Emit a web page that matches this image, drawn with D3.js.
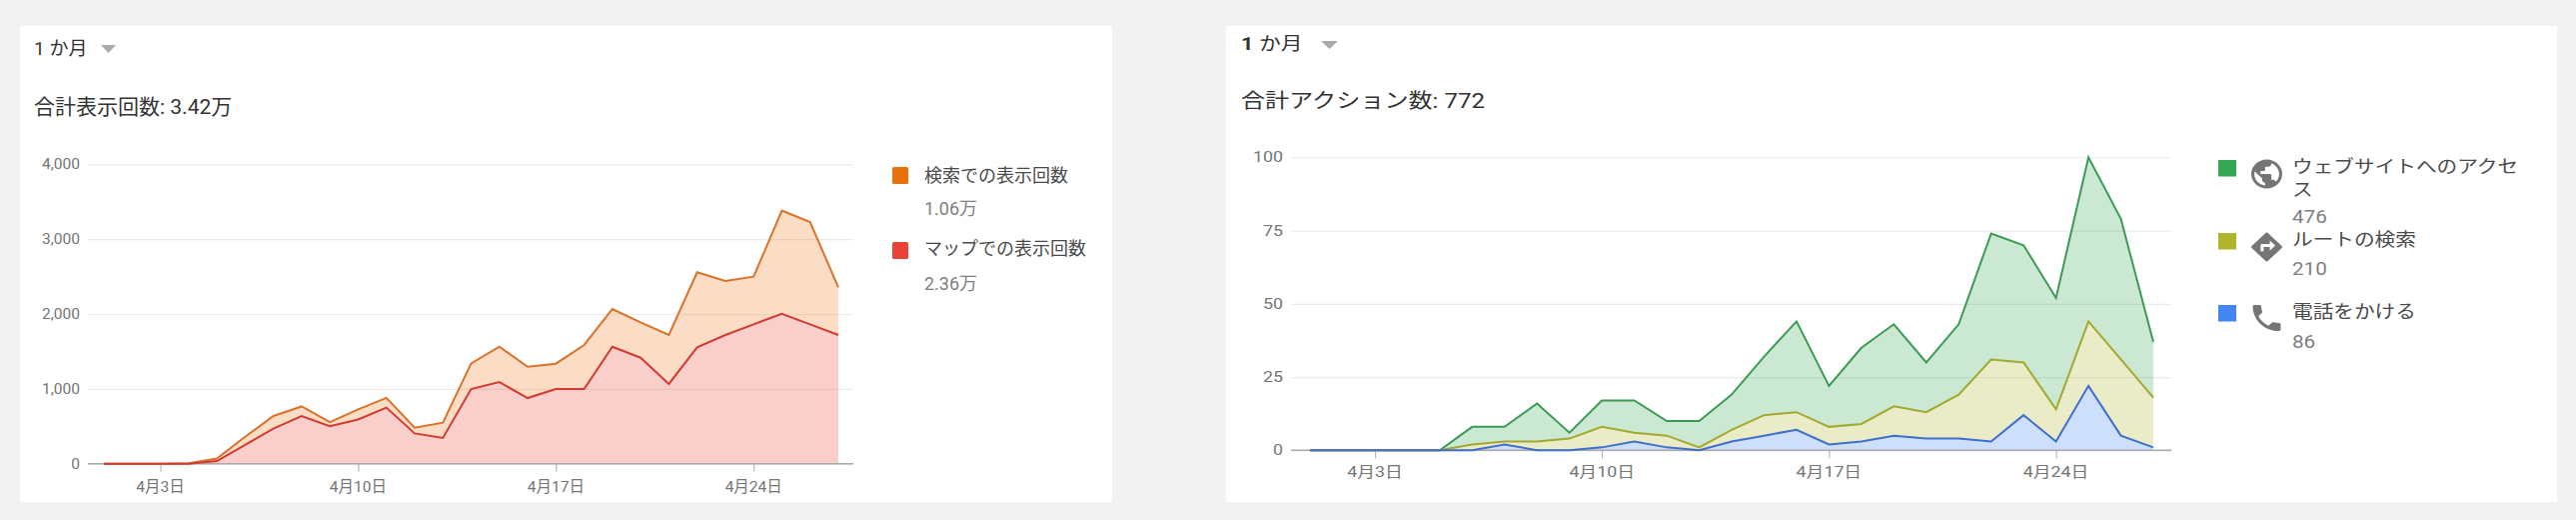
<!DOCTYPE html>
<html><head><meta charset="utf-8">
<script src="https://cdn.jsdelivr.net/npm/d3@7"></script>
<style>
html,body{margin:0;padding:0;background:#f2f2f2;overflow:hidden}
svg{display:block}
text{font-family:Roboto,"Noto Sans CJK JP",sans-serif}
</style></head><body><svg id="c" width="2578" height="520"></svg>
<script>
const days = d3.range(1, 28);
const tickDays = [3, 10, 17, 24];
const tickLabels = ["4月3日", "4月10日", "4月17日", "4月24日"];

const mapViews = [0,0,0,0,35,250,470,637,500,590,750,405,343,998,1090,877,998,998,1563,1416,1065,1555,1719,1862,2004,1862,1719];
const searchViews = [0,0,0,5,35,110,167,128,55,135,130,75,205,342,473,419,338,588,504,473,654,1002,722,637,1377,1367,637];
const viewTicks = [0, 1000, 2000, 3000, 4000];

const calls = [0,0,0,0,0,0,2,0,0,1,3,1,0,3,5,7,2,3,5,4,4,3,12,3,22,5,1];
const routes = [0,0,0,0,0,2,1,3,4,7,3,4,1,4,7,6,6,6,10,9,15,28,18,11,22,26,17];
const visits = [0,0,0,0,0,6,5,13,2,9,11,5,9,12,20,31,14,26,28,17,24,43,40,38,56,48,19];
const actionTicks = [0, 25, 50, 75, 100];

const svg = d3.select("#c");

function label(g, x, y, str, o) {
  o = o || {};
  const sx = o.sx || 1, sy = o.sy || 1;
  return g.append("text")
    .attr("transform", `translate(${x},${y}) scale(${sx},${sy})`)
    .attr("font-size", o.size || 18)
    .attr("fill", o.fill || "#555")
    .attr("font-weight", o.weight || 400)
    .attr("text-anchor", o.anchor || "start")
    .attr("dominant-baseline", "central")
    .text(str);
}

function chart(cfg) {
  const g = svg.append("g");
  g.append("rect").attr("x", cfg.panel[0]).attr("y", 26)
    .attr("width", cfg.panel[1] - cfg.panel[0]).attr("height", 476).attr("fill", "#fff");

  const x = d3.scaleLinear().domain([1, 27]).range(cfg.xr);
  const y = d3.scaleLinear().domain([0, cfg.max]).range(cfg.yr);
  const T = { sx: cfg.sx, sy: cfg.sy };

  // header
  const h = g.append("text")
    .attr("transform", `translate(${cfg.headX},${cfg.headY}) scale(${cfg.sx},${cfg.sy})`)
    .attr("font-size", 19).attr("fill", "#333").attr("dominant-baseline", "central");
  h.append("tspan").attr("font-weight", cfg.boldOne ? 700 : 400).text("1");
  h.append("tspan").text(" か月");
  g.append("path").attr("fill", "#aaa")
    .attr("d", d3.line()([[cfg.tri[0], cfg.tri[2]], [cfg.tri[1], cfg.tri[2]], [(cfg.tri[0] + cfg.tri[1]) / 2, cfg.tri[2] + 8]]) + "Z");
  label(g, cfg.headX, cfg.titleY, cfg.title, { ...T, size: 21, fill: "#333" });

  // y grid + labels via axis
  const ya = g.append("g").attr("transform", `translate(${cfg.gridX[0]},0)`)
    .call(d3.axisLeft(y).tickValues(cfg.yTicks).tickSize(-(cfg.gridX[1] - cfg.gridX[0])).tickFormat(d3.format(",")));
  ya.select(".domain").remove();
  ya.selectAll(".tick line").attr("stroke", "#ebebeb").attr("stroke-width", 1.2);
  ya.selectAll(".tick text").remove();
  cfg.yTicks.forEach(v => label(g, cfg.gridX[0] - 8, y(v), d3.format(",")(v),
    { ...T, size: 15.5, fill: "#757575", anchor: "end" }));

  // stacked areas
  const table = days.map((d, i) => {
    const r = { day: d };
    cfg.series.forEach(s => r[s.key] = s.values[i]);
    return r;
  });
  const stacked = d3.stack().keys(cfg.series.map(s => s.key))(table);
  const area = d3.area().x(d => x(d.data.day)).y0(d => y(d[0])).y1(d => y(d[1]));
  const line = d3.line().x(d => x(d.data.day)).y(d => y(d[1]));
  g.selectAll(null).data(stacked).enter().append("path")
    .attr("d", area).attr("fill", (d, i) => cfg.series[i].color).attr("fill-opacity", 0.26);

  // x axis
  const xa = g.append("g").attr("transform", `translate(0,${cfg.yr[0]})`)
    .call(d3.axisBottom(x).tickValues(tickDays).tickSize(8).tickFormat(""));
  xa.select(".domain").attr("d", `M${cfg.gridX[0]},0H${cfg.gridX[1]}`).attr("stroke", "#aaa").attr("stroke-width", 1.5);
  xa.selectAll(".tick line").attr("stroke", "#aaa").attr("stroke-width", 1);
  xa.selectAll(".tick text").remove();
  tickDays.forEach((d, i) => label(g, x(d), cfg.tickY, tickLabels[i],
    { ...T, size: 15.5, fill: "#757575", anchor: "middle" }));

  // lines, last series on the bottom drawn last so it stays on top at zero
  const order = stacked.map((s, i) => i).reverse();
  order.forEach(i => {
    g.append("path").datum(stacked[i]).attr("d", line).attr("fill", "none")
      .attr("stroke", cfg.series[i].lineColor).attr("stroke-width", 2).attr("stroke-linejoin", "miter");
  });
  return g;
}

const left = chart({
  panel: [20, 1113], xr: [104, 839], yr: [463.7, 164.3], max: 4000, yTicks: viewTicks,
  gridX: [88, 854], sx: 1, sy: 1, headX: 34, headY: 48, titleY: 107, tri: [101, 116, 45],
  tickY: 487, boldOne: false, title: "合計表示回数: 3.42万",
  series: [
    { key: "map", values: mapViews, color: "#ea4335", lineColor: "#d23a32" },
    { key: "search", values: searchViews, color: "#f0761a", lineColor: "#d9722a" }
  ]
});
[["検索での表示回数", "1.06万", "#e8710a", 167, 175, 208], ["マップでの表示回数", "2.36万", "#ea4335", 242, 248, 283]]
  .forEach(r => {
    left.append("rect").attr("x", 893).attr("y", r[3]).attr("width", 16).attr("height", 17).attr("rx", 1.5).attr("fill", r[2]);
    label(left, 925, r[4], r[0], { size: 18, fill: "#4a4a4a" });
    label(left, 925, r[5], r[1], { size: 18, fill: "#808080" });
  });

const SX = 1.148, SY = 0.98;
const right = chart({
  panel: [1227, 2559], xr: [1311, 2155], yr: [450.3, 157.3], max: 100, yTicks: actionTicks,
  gridX: [1292, 2173], sx: SX, sy: SY, headX: 1242, headY: 44, titleY: 101, tri: [1322, 1339, 41],
  tickY: 472, boldOne: true, title: "合計アクション数: 772",
  series: [
    { key: "calls", values: calls, color: "#4285f4", lineColor: "#3f6fce" },
    { key: "routes", values: routes, color: "#afb42b", lineColor: "#a3a82f" },
    { key: "visits", values: visits, color: "#34a853", lineColor: "#3c9a55" }
  ]
});
const icons = {
  web: "M12 2C6.48 2 2 6.48 2 12s4.48 10 10 10 10-4.48 10-10S17.52 2 12 2zm-1 17.93c-3.95-.49-7-3.85-7-7.93 0-.62.08-1.21.21-1.79L9 15v1c0 1.1.9 2 2 2v1.93zm6.9-2.54c-.26-.81-1-1.39-1.9-1.39h-1v-3c0-.55-.45-1-1-1H8v-2h2c.55 0 1-.45 1-1V7h2c1.1 0 2-.9 2-2v-.41c2.93 1.19 5 4.06 5 7.41 0 2.08-.8 3.97-2.1 5.39z",
  route: "M21.71 11.29l-9-9c-.39-.39-1.02-.39-1.41 0l-9 9c-.39.39-.39 1.02 0 1.41l9 9c.39.39 1.02.39 1.41 0l9-9c.39-.38.39-1.01 0-1.41zM14 14.5V12h-4v3H8v-4c0-.55.45-1 1-1h5V7.5l3.5 3.5-3.5 3.5z",
  call: "M6.62 10.79c1.44 2.83 3.76 5.14 6.59 6.59l2.2-2.2c.27-.27.67-.36 1.02-.24 1.12.37 2.33.57 3.57.57.55 0 1 .45 1 1V20c0 .55-.45 1-1 1-9.39 0-17-7.61-17-17 0-.55.45-1 1-1h3.5c.55 0 1 .45 1 1 0 1.25.2 2.45.57 3.57.11.35.03.74-.25 1.02l-2.2 2.2z"
};
[
  { c: "#34a853", sw: 160, icon: "web", iy: 174, lines: [["ウェブサイトへのアクセ", 167], ["ス", 190]], val: "476", vy: 217 },
  { c: "#afb42b", sw: 233, icon: "route", iy: 247, lines: [["ルートの検索", 240]], val: "210", vy: 269 },
  { c: "#4285f4", sw: 305, icon: "call", iy: 318, lines: [["電話をかける", 312]], val: "86", vy: 342 }
].forEach(r => {
  right.append("rect").attr("x", 2220).attr("y", r.sw).attr("width", 18).attr("height", 16.5).attr("fill", r.c);
  right.append("path").attr("d", icons[r.icon]).attr("fill", "#757575")
    .attr("transform", `translate(${2268.5 - 12 * 1.55},${r.iy - 12 * 1.45}) scale(1.55,1.45)`);
  r.lines.forEach(l => label(right, 2294, l[1], l[0], { sx: SX, sy: SY, size: 18, fill: "#4a4a4a" }));
  label(right, 2294, r.vy, r.val, { sx: SX, sy: SY, size: 18, fill: "#808080" });
});
</script></body></html>
